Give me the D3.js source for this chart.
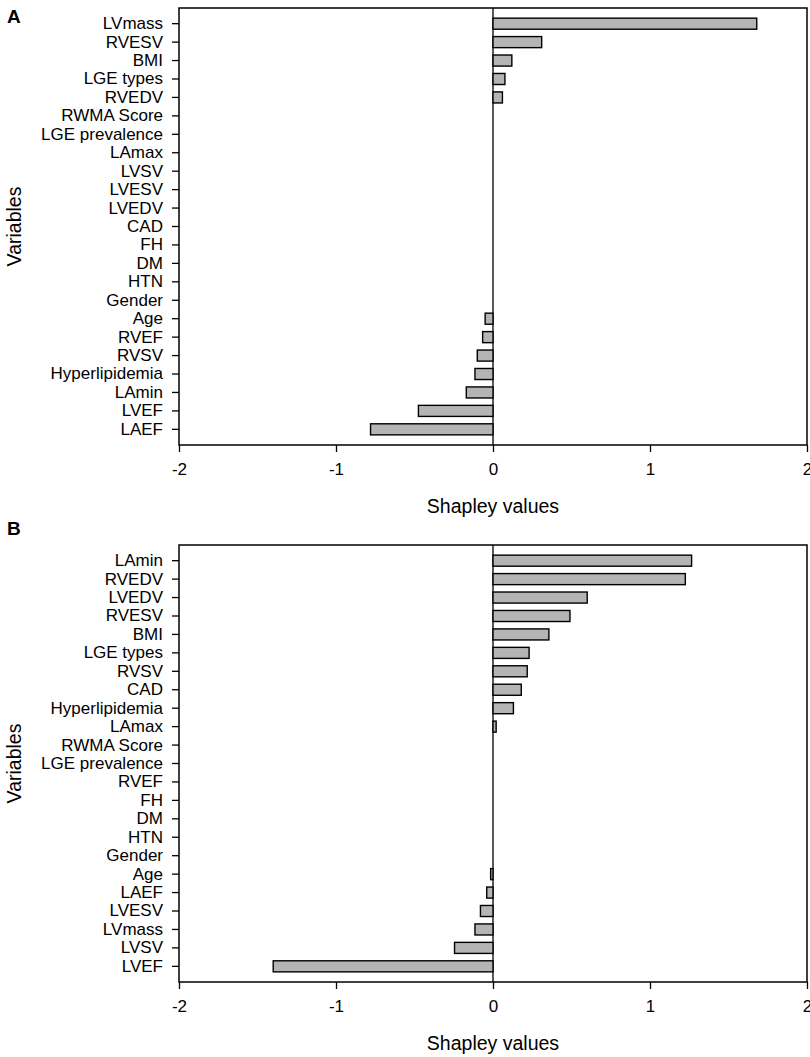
<!DOCTYPE html>
<html>
<head>
<meta charset="utf-8">
<script src="https://cdn.jsdelivr.net/npm/d3@7"></script>
<style>
    body { margin: 0; background: #fff; }
    text { font-family: "Liberation Sans", Arial, sans-serif; fill: #000; }
</style>
</head>
<body>
<script>
(function(){

    // panel A: variables top to bottom and their Shapley values
    var namesA = ["LVmass", "RVESV", "BMI", "LGE types", "RVEDV", "RWMA Score", "LGE prevalence",
        "LAmax", "LVSV", "LVESV", "LVEDV", "CAD", "FH", "DM", "HTN", "Gender", "Age", "RVEF",
        "RVSV", "Hyperlipidemia", "LAmin", "LVEF", "LAEF"];
    var valuesA = [1.68, 0.31, 0.12, 0.076, 0.06, 0, 0, 0, 0, 0, 0, 0, 0, 0, 0, 0,
        -0.05, -0.066, -0.10, -0.115, -0.17, -0.475, -0.78];

    // panel B
    var namesB = ["LAmin", "RVEDV", "LVEDV", "RVESV", "BMI", "LGE types", "RVSV", "CAD",
        "Hyperlipidemia", "LAmax", "RWMA Score", "LGE prevalence", "RVEF", "FH", "DM", "HTN",
        "Gender", "Age", "LAEF", "LVESV", "LVmass", "LVSV", "LVEF"];
    var valuesB = [1.265, 1.225, 0.60, 0.49, 0.356, 0.23, 0.218, 0.18, 0.13, 0.02, 0, 0, 0, 0, 0, 0, 0,
        -0.015, -0.04, -0.08, -0.115, -0.245, -1.40];

    var xTicks = [-2, -1, 0, 1, 2];
    var xDomain = [-2, 2];

    var width = 810,
        height = 1057;

    var svg = d3.select("body")
        .append("svg")
        .attr("width", width)
        .attr("height", height);

    drawPanel("A", namesA, valuesA, 8, 23);
    drawPanel("B", namesB, valuesB, 545, 535);

    function drawPanel(letter, names, values, top, letterY){
        var left = 179,
            right = 807,
            bottom = top + 437;

        var data = names.map(function(n, i){ return {name: n, value: values[i]}; });

        var x = d3.scaleLinear()
            .domain(xDomain)
            .range([left, right]);

        var y = d3.scaleBand()
            .domain(names)
            .range([top, bottom])
            .paddingInner(0.4)
            .paddingOuter(0.55);

        var g = svg.append("g");

        //frame
        g.append("rect")
            .attr("x", left)
            .attr("y", top)
            .attr("width", right - left)
            .attr("height", bottom - top)
            .attr("fill", "none")
            .attr("stroke", "#000")
            .attr("stroke-width", 1.5);

        //zero line
        g.append("line")
            .attr("x1", x(0)).attr("x2", x(0))
            .attr("y1", top).attr("y2", bottom)
            .attr("stroke", "#000")
            .attr("stroke-width", 1.3);

        //bars
        g.selectAll(".bar")
            .data(data.filter(function(d){ return d.value !== 0; }))
            .enter()
            .append("rect")
            .attr("class", "bar")
            .attr("x", function(d){ return x(Math.min(0, d.value)); })
            .attr("y", function(d){ return y(d.name); })
            .attr("width", function(d){ return Math.abs(x(d.value) - x(0)); })
            .attr("height", y.bandwidth())
            .attr("fill", "#b4b4b4")
            .attr("stroke", "#000")
            .attr("stroke-width", 1.4);

        //y axis
        var yAxis = g.append("g")
            .attr("transform", "translate(" + left + ",0)")
            .call(d3.axisLeft(y).tickSize(7).tickPadding(9));
        yAxis.select(".domain").remove();
        yAxis.selectAll("line").attr("stroke-width", 1.3);
        yAxis.selectAll("text")
            .style("font-size", "17px")
            .style("font-family", "'Liberation Sans', Arial, sans-serif");

        //x axis
        var xAxis = g.append("g")
            .attr("transform", "translate(0," + bottom + ")")
            .call(d3.axisBottom(x).tickValues(xTicks).tickSize(7).tickPadding(11));
        xAxis.select(".domain").remove();
        xAxis.selectAll("line").attr("stroke-width", 1.3);
        xAxis.selectAll("text")
            .style("font-size", "17px")
            .style("font-family", "'Liberation Sans', Arial, sans-serif")
            .text(function(d){ return d < 0 ? "-" + Math.abs(d) : d; });

        //axis titles
        g.append("text")
            .attr("x", (left + right) / 2)
            .attr("y", bottom + 68)
            .attr("text-anchor", "middle")
            .style("font-size", "19.5px")
            .text("Shapley values");

        g.append("text")
            .attr("transform", "translate(21," + ((top + bottom) / 2) + ") rotate(-90)")
            .attr("text-anchor", "middle")
            .style("font-size", "19.5px")
            .text("Variables");

        //panel letter
        g.append("text")
            .attr("x", 7)
            .attr("y", letterY)
            .style("font-size", "19px")
            .style("font-weight", "bold")
            .text(letter);
    }

})();
</script>
</body>
</html>
